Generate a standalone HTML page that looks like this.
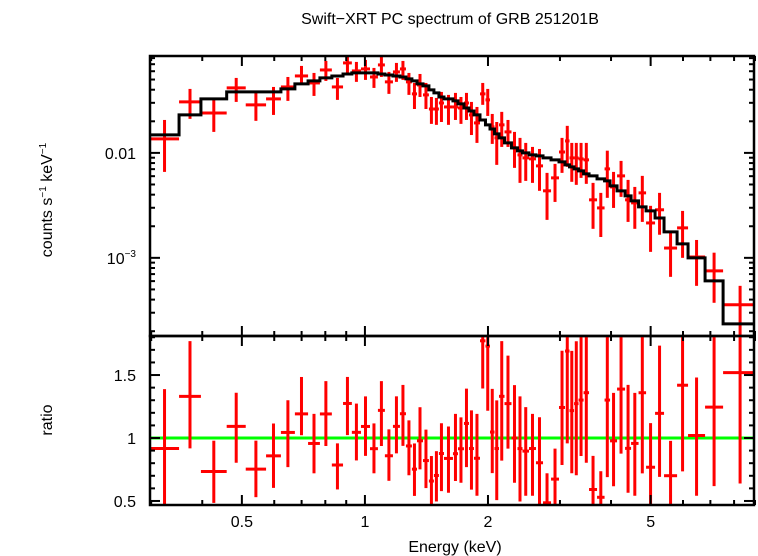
<!DOCTYPE html>
<html><head><meta charset="utf-8"><style>
html,body{margin:0;padding:0;background:#fff}
svg{display:block;font-family:"Liberation Sans",sans-serif}
</style></head><body>
<svg id="chart" width="758" height="556" viewBox="0 0 758 556" xmlns="http://www.w3.org/2000/svg">
<text x="450" y="24" font-size="16" text-anchor="middle">Swift−XRT PC spectrum of GRB 251201B</text>
<g id="topPanel"></g>
<g id="botPanel"></g>
<text transform="translate(52,200) rotate(-90)" font-size="16" text-anchor="middle">counts s<tspan font-size="10" dy="-6">−1</tspan><tspan dy="6"> keV</tspan><tspan font-size="10" dy="-6">−1</tspan></text>
<text transform="translate(52,420) rotate(-90)" font-size="16" text-anchor="middle">ratio</text>
<text x="455" y="552" font-size="16" text-anchor="middle">Energy (keV)</text>
</svg>
<script>
// bin edges (keV)
const binEdges=[0.298,0.351,0.397,0.459,0.511,0.573,0.623,0.674,0.726,0.776,0.830,0.884,0.929,0.978,1.029,1.076,1.119,1.171,1.218,1.260,1.303,1.341,1.387,1.434,1.475,1.517,1.561,
1.642,1.689,1.747,1.797,1.848,1.912,1.972,2.023,2.075,2.128,2.195,2.283,2.362,2.429,2.520,2.621,2.727,2.853,2.984,3.087,3.166,3.248,3.331,3.427,3.534,3.697,3.857,3.978,4.138,4.329,4.478,4.671,4.873,5.126,5.392,5.803,6.173,6.794,7.520,9.107];
// observed counts s^-1 keV^-1
const counts=[0.0136,0.0306,0.0240,0.0416,0.0287,0.0327,0.0425,0.0541,0.0464,0.0617,0.0425,0.0720,0.0604,0.0631,0.0529,0.0689,0.0475,0.0591,0.0631,0.0475,0.0365,0.0444,0.0357,0.0262,0.0262,0.0299,
0.0274,0.0274,0.0268,0.0299,0.0230,0.0193,0.0365,0.0320,0.0177,0.0139,0.0185,0.01585,0.01116,0.00957,0.00896,0.00877,0.00752,0.00435,0.00578,0.0102,0.0130,0.00896,0.00896,0.00877,0.00858,0.00357,0.00299,0.00704,0.00474,0.00604,0.00357,0.00334,0.00416,0.00215,0.00287,0.00124,0.00193,0.00102,0.000752,0.000357];
// error bar upper ends
const errHigh=[0.0206,0.0407,0.0320,0.0518,0.0373,0.0425,0.0529,0.0674,0.0578,0.0752,0.0518,0.0839,0.0736,0.0769,0.0645,0.0820,0.0591,0.0720,0.0752,0.0578,0.0464,0.0565,0.0464,0.0341,0.0334,0.0381,
0.0357,0.0373,0.0341,0.0373,0.0306,0.0274,0.0464,0.0407,0.0235,0.0197,0.0246,0.0206,0.01585,0.0139,0.01245,0.0114,0.0109,0.00645,0.00786,0.0139,0.0181,0.01245,0.01245,0.01245,0.01245,0.00518,0.00416,0.0105,0.00659,0.00839,0.00553,0.00474,0.00604,0.00313,0.00416,0.00173,0.0028,0.00148,0.00112,0.000541];
// error bar lower ends
const errLow=[0.00659,0.0211,0.01585,0.0306,0.0202,0.0230,0.0313,0.0464,0.0349,0.0485,0.0320,0.0578,0.0475,0.0496,0.0416,0.0529,0.0365,0.0475,0.0496,0.0357,0.0262,0.0341,0.0262,0.0189,0.0185,0.0197,
0.0185,0.0206,0.0189,0.0206,0.0148,0.01245,0.0287,0.0225,0.01218,0.00769,0.0114,0.0114,0.0072,0.00518,0.00541,0.00518,0.00435,0.0023,0.00341,0.00645,0.00736,0.0053,0.00496,0.00578,0.00507,0.00189,0.00158,0.00373,0.00299,0.00381,0.0022,0.00189,0.0022,0.00114,0.00166,0.000659,0.001,0.000541,0.000373,0.00015];
// folded model
const model=[0.01484,0.0230,0.0327,0.0381,0.0381,0.0381,0.0407,0.0454,0.0485,0.0518,0.0541,0.0565,0.0578,0.0578,0.0578,0.0565,0.0553,0.0541,0.0529,0.0507,0.0485,0.0454,0.0435,0.0398,0.0373,0.0341,
0.0327,0.0313,0.0293,0.0268,0.0251,0.0230,0.0206,0.0185,0.0169,0.01517,0.0139,0.01245,0.01116,0.01045,0.0100,0.00957,0.00936,0.00896,0.00858,0.00821,0.00769,0.00736,0.00704,0.00674,0.00631,0.00604,0.00565,0.00541,0.00485,0.00435,0.00389,0.00349,0.00306,0.0028,0.0024,0.00177,0.00136,0.0010,0.000604,0.000235];
const xTickLabels=["0.5","1","2","5"];
const xTickVals=[0.5,1,2,5];

const NS="http://www.w3.org/2000/svg";
const L=150,R=754,T1=56,B1=336,T2=336,B2=505;
const xmin=0.298,xmax=8.95;
const X=e=>L+(Math.log10(e)-Math.log10(xmin))/(Math.log10(xmax)-Math.log10(xmin))*(R-L);
const ymin=1.8e-4,ymax=0.0838;
const Y=c=>B1-(Math.log10(c)-Math.log10(ymin))/(Math.log10(ymax)-Math.log10(ymin))*(B1-T1);
const rmin=0.468,rmax=1.81;
const YR=r=>B2-(r-rmin)/(rmax-rmin)*(B2-T2);
function mk(p,tag,at){const e=document.createElementNS(NS,tag);for(const k in at)e.setAttribute(k,at[k]);p.appendChild(e);return e;}
const topG=document.getElementById('topPanel'),botG=document.getElementById('botPanel');
const svgEl=document.getElementById('chart');
const defs=mk(svgEl,'defs',{});
const c1=mk(defs,'clipPath',{id:'c1'});mk(c1,'rect',{x:L,y:T1,width:R-L,height:B1-T1});
const c2=mk(defs,'clipPath',{id:'c2'});mk(c2,'rect',{x:L,y:T2,width:R-L,height:B2-T2});
const g1=mk(topG,'g',{'clip-path':'url(#c1)'});
const g2=mk(botG,'g',{'clip-path':'url(#c2)'});
const gl=mk(g2,'line',{x1:L,x2:R,y1:YR(1),y2:YR(1),stroke:'#00ff00','stroke-width':3});


for(let i=0;i<counts.length;i++){
  const xa=X(binEdges[i]),xb=X(binEdges[i+1]),xc=X(Math.sqrt(binEdges[i]*binEdges[i+1]));
  const g=mk(g1,'g',{stroke:'#ff0000','stroke-width':3});
  
  
  mk(g,'line',{x1:xa,x2:xb,y1:Y(counts[i]),y2:Y(counts[i])});
  mk(g,'line',{x1:xc,x2:xc,y1:Y(errHigh[i]),y2:Y(errLow[i])});
  const r=counts[i]/model[i],rh=errHigh[i]/model[i],rl=errLow[i]/model[i];
  const h=mk(g2,'g',{stroke:'#ff0000','stroke-width':3});
  
  
  mk(h,'line',{x1:xa,x2:xb,y1:YR(r),y2:YR(r)});
  mk(h,'line',{x1:xc,x2:xc,y1:YR(rh),y2:YR(rl)});
}
let d='';
for(let i=0;i<model.length;i++){const xa=X(binEdges[i]),xb=X(binEdges[i+1]),y=Y(model[i]);d+=(i?'L':'M')+xa+','+y+'L'+xb+','+y;}
const mp=mk(g1,'path',{d:d,fill:'none',stroke:'#000','stroke-width':3});


const f1=mk(topG,'rect',{x:L,y:T1,width:R-L,height:B1-T1,fill:'none',stroke:'#000','stroke-width':2.5});


const f2=mk(botG,'rect',{x:L,y:T2,width:R-L,height:B2-T2,fill:'none',stroke:'#000','stroke-width':2.5});


const tk=mk(svgEl,'g',{stroke:'#000','stroke-width':2});


const minorE=[0.3,0.4,0.5,0.6,0.7,0.8,0.9,1,2,3,4,5,6,7,8,9];
minorE.forEach(e=>{
  const x=X(e);const maj=xTickVals.indexOf(e)>=0;const len=maj?10:5;
  [[T1,1],[B1,-1],[T2,1],[B2,-1]].forEach(([y,s])=>mk(tk,'line',{x1:x,x2:x,y1:y,y2:y+s*len}));
});
xTickLabels.forEach((t,i)=>{const el=mk(svgEl,'text',{x:X(xTickVals[i]),y:527,'font-size':16,'text-anchor':'middle'});el.textContent=t;

});
for(let p=-4;p<=-1;p++)for(let m=1;m<10;m++){const c=m*Math.pow(10,p);if(c<ymin||c>ymax)continue;const y=Y(c);const len=m==1?10:5;
  mk(tk,'line',{x1:L,x2:L+len,y1:y,y2:y});mk(tk,'line',{x1:R,x2:R-len,y1:y,y2:y});}
const t01=mk(svgEl,'text',{x:136,y:Y(0.01)+6,'font-size':16,'text-anchor':'end'});t01.textContent='0.01';


const t3=mk(svgEl,'text',{x:136,y:Y(0.001)+6,'font-size':16,'text-anchor':'end'});


t3.textContent='10';
const sup=mk(t3,'tspan',{'font-size':10,dy:-7});sup.textContent='−3';
for(let k=0;k<=13;k++){const r=0.5+k*0.1;const y=YR(r);const len=(k%5==0)?10:5;
  mk(tk,'line',{x1:L,x2:L+len,y1:y,y2:y});mk(tk,'line',{x1:R,x2:R-len,y1:y,y2:y});}
["0.5","1","1.5"].forEach(t=>{const el=mk(svgEl,'text',{x:136,y:YR(parseFloat(t))+6,'font-size':16,'text-anchor':'end'});el.textContent=t;

});
</script>
</body></html>
